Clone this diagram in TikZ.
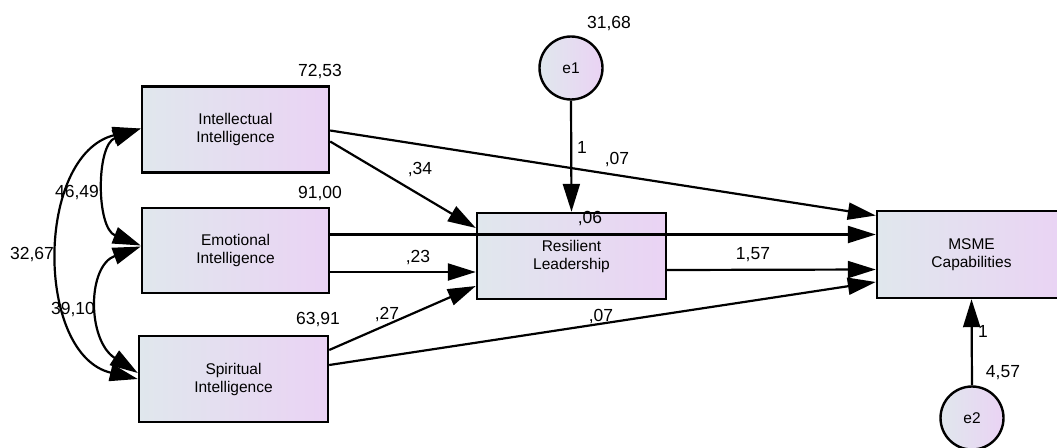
\documentclass[tikz,border=0pt]{standalone}
\usepackage{fontspec}
\setmainfont{Liberation Sans}
\usetikzlibrary{arrows.meta,calc}

\definecolor{fillL}{RGB}{224,231,237}
\definecolor{fillR}{RGB}{234,211,244}

\begin{document}
\begin{tikzpicture}[x=1pt,y=-1pt,
  var/.style={draw, line width=2.4pt, left color=fillL, right color=fillR,
    minimum width=187pt, minimum height=86pt, inner sep=0pt, align=center,
    font=\fontsize{15.5}{18}\selectfont},
  err/.style={circle, draw, line width=2.4pt, left color=fillL, right color=fillR,
    minimum size=63pt, inner sep=0pt, font=\fontsize{15.5}{18}\selectfont},
  tip/.tip={Triangle[length=28pt,width=17pt]},
  reg/.style={line width=2.2pt, -tip},
  cov/.style={line width=2.2pt, tip-tip},
  lab/.style={inner sep=0pt, anchor=base, font=\fontsize{17.5}{20}\selectfont}]

\clip (0,0) rectangle (1057,447);

% observed variables
\node[var] (int) at (235.5,129.5) {Intellectual\\Intelligence};
\node[var, minimum height=85pt] (emo) at (235.5,250.5) {Emotional\\Intelligence};
\node[var, minimum width=189pt] (spi) at (233.5,379) {Spiritual\\Intelligence};
\node[var, minimum width=189pt] (res) at (571.5,256) {Resilient\\Leadership};
\node[var, minimum width=189pt, minimum height=87pt] (msme) at (971.5,254.5) {MSME\\Capabilities};

% error terms
\node[err] (e1) at (571,68) {e1};
\node[err] (e2) at (972,418) {e2};

% regression paths
\draw[reg] ($(int.east)+(0,1)$) -- ($(msme.west)+(0,-39)$);
\draw[reg] ($(int.east)+(0,12)$) -- ($(res.west)+(0,-28)$);
\draw[reg] ($(emo.east)+(0,-16)$) -- ($(msme.west)+(0,-20)$);
\draw[reg] ($(emo.east)+(0,21.5)$) -- ($(res.west)+(0,16)$);
\draw[reg] ($(spi.east)+(0,-29)$) -- ($(res.west)+(0,30)$);
\draw[reg] ($(spi.east)+(0,-14)$) -- ($(msme.west)+(0,27.5)$);
\draw[reg] ($(res.east)+(0,14)$) -- ($(msme.west)+(0,15)$);
\draw[reg] (e1.south) -- (res.north);
\draw[reg] (e2.north) -- (msme.south);

% covariances
\draw[cov] ($(int.west)+(0,-1)$) .. controls (96,145) and (96,228) .. ($(emo.west)+(0,-5)$);
\draw[cov] ($(emo.west)+(0,-4)$) .. controls (87,266) and (87,340) .. ($(spi.west)+(0,-6)$);
\draw[cov] ($(int.west)+(0,-1)$) .. controls (35,155) and (35,355) .. (spi.west);

% estimates
\node[lab] (vInt) at (320,76) {72,53};
\node[lab] (vEmo) at (320,198) {91,00};
\node[lab] (vSpi) at (318,324) {63,91};
\node[lab] (cIE) at (77,197) {46,49};
\node[lab] (cIS) at (32,259) {32,67};
\node[lab] (cES) at (73,314) {39,10};
\node[lab] (vE1) at (609,28) {31,68};
\node[lab] (wE1) at (582,153) {1};
\node[lab] (bIM) at (617,164) {,07};
\node[lab] (bIR) at (420,174) {,34};
\node[lab] (bEM) at (590,223) {,06};
\node[lab] (bER) at (418,262) {,23};
\node[lab] (bSR) at (387,319) {,27};
\node[lab] (bSM) at (601,321) {,07};
\node[lab] (bRM) at (753,259) {1,57};
\node[lab] (wE2) at (983,337) {1};
\node[lab] (vE2) at (1003,377) {4,57};
\end{tikzpicture}
\end{document}
